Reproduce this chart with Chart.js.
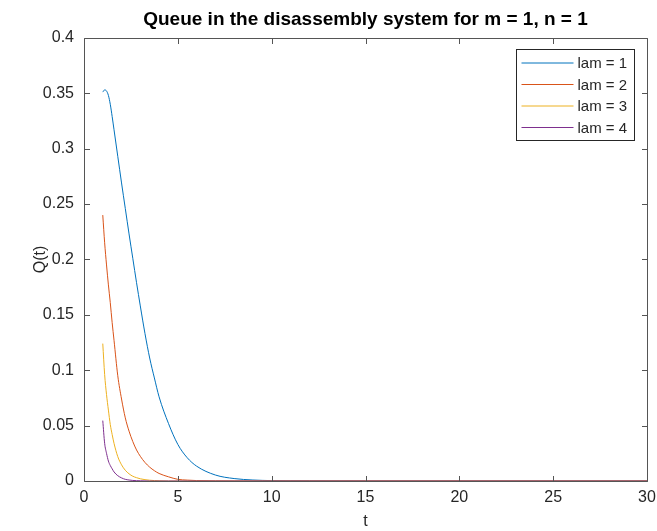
<!DOCTYPE html>
<html>
<head>
<meta charset="utf-8">
<script src="https://cdn.jsdelivr.net/npm/chart.js@4"></script>
<style>
  html, body { margin: 0; padding: 0; background: #fff; }
  #wrap { width: 657px; height: 531px; }
</style>
</head>
<body>
<div id="wrap"><canvas id="queueChart"></canvas></div>
<script>
// sample times t
const tValues = [1, 1.1, 1.2, 1.3, 1.4, 1.5, 1.6, 1.8, 2, 2.2, 2.4, 2.6, 2.8, 3, 3.25, 3.5, 3.75, 4, 4.5, 5, 5.5, 6, 7, 8, 9, 10, 12, 15, 20, 25, 30];

// Q(t), one list per lambda
const lam1 = [0.351, 0.353, 0.352, 0.348, 0.340, 0.329, 0.317, 0.293, 0.269, 0.246, 0.223, 0.201, 0.179, 0.158, 0.133, 0.111, 0.093, 0.076, 0.052, 0.033, 0.021, 0.0134, 0.0054, 0.0022, 0.0009, 0.00035, 0.0001, 0, 0, 0, 0];
const lam2 = [0.240, 0.215, 0.195, 0.177, 0.161, 0.143, 0.127, 0.095, 0.074, 0.057, 0.045, 0.0356, 0.028, 0.0223, 0.0167, 0.0125, 0.0093, 0.0068, 0.0038, 0.0015, 0.0008, 0.0004, 0.0001, 0, 0, 0, 0, 0, 0, 0, 0];
const lam3 = [0.124, 0.096, 0.078, 0.064, 0.051, 0.042, 0.034, 0.022, 0.0146, 0.0097, 0.0065, 0.0043, 0.003, 0.002, 0.0012, 0.0007, 0.0004, 0.0002, 0, 0, 0, 0, 0, 0, 0, 0, 0, 0, 0, 0, 0];
const lam4 = [0.0545, 0.034, 0.025, 0.018, 0.014, 0.011, 0.0082, 0.0048, 0.0028, 0.0015, 0.0009, 0.0005, 0.0003, 0.0002, 0.0001, 0, 0, 0, 0, 0, 0, 0, 0, 0, 0, 0, 0, 0, 0, 0, 0];

const seriesLabels = ["lam = 1", "lam = 2", "lam = 3", "lam = 4"];
const seriesColors = ["#0072BD", "#D95319", "#EDB120", "#7E2F8E"];
const seriesValues = [lam1, lam2, lam3, lam4];

const xTicks = [0, 5, 10, 15, 20, 25, 30];
const yTicks = [0, 0.05, 0.1, 0.15, 0.2, 0.25, 0.3, 0.35, 0.4];

const axisColor = "#262626";
const boxColor = "#555555";
const fontFamily = "'Liberation Sans', Arial, Helvetica, sans-serif";

// MATLAB style box with inward ticks on all four sides
const boxPlugin = {
  id: "boxPlugin",
  afterDatasetsDraw(chart) {
    const ctx = chart.ctx;
    const a = chart.chartArea;
    const xs = chart.scales.x, ys = chart.scales.y;
    const L = Math.round(a.left) + 0.5, R = Math.round(a.right) + 0.5;
    const T = Math.round(a.top) + 0.5, B = Math.round(a.bottom) + 0.5;
    const len = 5.5;
    ctx.save();
    ctx.strokeStyle = boxColor;
    ctx.lineWidth = 1;
    ctx.beginPath();
    ctx.rect(L, T, R - L, B - T);
    for (const v of xTicks) {
      const px = Math.round(xs.getPixelForValue(v)) + 0.5;
      ctx.moveTo(px, B); ctx.lineTo(px, B - len);
      ctx.moveTo(px, T); ctx.lineTo(px, T + len);
    }
    for (const v of yTicks) {
      const py = Math.round(ys.getPixelForValue(v)) + 0.5;
      ctx.moveTo(L, py); ctx.lineTo(L + len, py);
      ctx.moveTo(R, py); ctx.lineTo(R - len, py);
    }
    ctx.stroke();
    ctx.restore();
  }
};

// legend box inside the plot, upper right
const legendPlugin = {
  id: "legendPlugin",
  afterDraw(chart) {
    const ctx = chart.ctx;
    const a = chart.chartArea;
    const right = Math.round(a.right) - 13 + 0.5;
    const top = Math.round(a.top) + 11 + 0.5;
    const w = 118, h = 91;
    const left = right - w;
    ctx.save();
    ctx.fillStyle = "#fff";
    ctx.fillRect(left, top, w, h);
    ctx.strokeStyle = axisColor;
    ctx.lineWidth = 1;
    ctx.strokeRect(left, top, w, h);
    ctx.font = "15px " + fontFamily;
    ctx.textBaseline = "middle";
    ctx.textAlign = "left";
    chart.data.datasets.forEach((ds, i) => {
      const y = top + 13.5 + i * 21.5;
      ctx.strokeStyle = ds.borderColor;
      ctx.beginPath();
      ctx.moveTo(left + 5, y);
      ctx.lineTo(left + 57, y);
      ctx.stroke();
      ctx.fillStyle = axisColor;
      ctx.fillText(ds.label, left + 61, y + 1);
    });
    ctx.restore();
  }
};

const ctx = document.getElementById("queueChart");
new Chart(ctx, {
  type: "line",
  data: {
    datasets: seriesValues.map((vals, i) => ({
      label: seriesLabels[i],
      data: tValues.map((t, k) => ({ x: t, y: vals[k] })),
      borderColor: seriesColors[i],
      backgroundColor: seriesColors[i],
      borderWidth: 1,
      pointRadius: 0,
      fill: false,
      cubicInterpolationMode: "monotone",
      order: seriesValues.length - i
    }))
  },
  options: {
    responsive: true,
    maintainAspectRatio: false,
    animation: false,
    layout: { padding: { left: 0, right: 10, top: 0, bottom: 0 } },
    plugins: {
      legend: { display: false },
      tooltip: { enabled: false },
      title: {
        display: true,
        fullSize: false,
        text: "Queue in the disassembly system for m = 1, n = 1",
        color: "#000",
        font: { family: fontFamily, size: 19, weight: "bold", lineHeight: 1.2 },
        padding: { top: 8, bottom: 7 }
      }
    },
    scales: {
      x: {
        type: "linear",
        min: 0,
        max: 30,
        afterBuildTicks: (scale) => { scale.ticks = xTicks.map(v => ({ value: v })); },
        afterFit: (scale) => { scale.height = 50; scale.paddingLeft = 0; scale.paddingRight = 0; },
        grid: { display: true, drawOnChartArea: false, drawTicks: false },
        border: { display: false },
        ticks: { color: axisColor, padding: 7, font: { family: fontFamily, size: 16 }, maxRotation: 0 },
        title: { display: true, text: "t", color: axisColor, font: { family: fontFamily, size: 16 }, padding: { top: 0, bottom: 0 } }
      },
      y: {
        min: 0,
        max: 0.4,
        afterBuildTicks: (scale) => { scale.ticks = yTicks.map(v => ({ value: v })); },
        afterFit: (scale) => { scale.width = 84; },
        grid: { display: true, drawOnChartArea: false, drawTicks: false },
        border: { display: false },
        ticks: { color: axisColor, padding: 10, font: { family: fontFamily, size: 16 }, callback: (v) => String(+v.toFixed(2)) },
        title: { display: true, text: "Q(t)", color: axisColor, font: { family: fontFamily, size: 16 }, padding: { top: 31, bottom: 31 } }
      }
    }
  },
  plugins: [boxPlugin, legendPlugin]
});
</script>
</body>
</html>
